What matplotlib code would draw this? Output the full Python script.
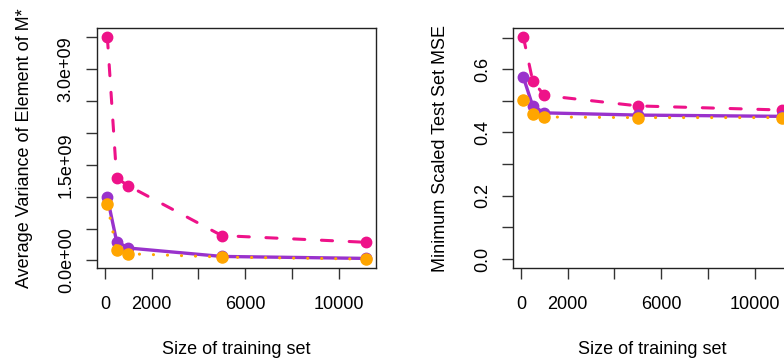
import numpy as np
import matplotlib
matplotlib.use("Agg")
from matplotlib import pyplot as plt
from matplotlib.ticker import FixedLocator, FixedFormatter

# training set sizes
train_size = [100, 500, 1000, 5000, 11160]

# left panel: average variance of element of M*
var_pink = [3.507e9, 1.292e9, 1.171e9, 0.390e9, 0.285e9]
var_purple = [0.990e9, 0.295e9, 0.195e9, 0.063e9, 0.032e9]
var_orange = [0.880e9, 0.158e9, 0.105e9, 0.053e9, 0.021e9]

# right panel: minimum scaled test set MSE
mse_pink = [0.702, 0.563, 0.517, 0.484, 0.471]
mse_purple = [0.575, 0.484, 0.462, 0.455, 0.451]
mse_orange = [0.504, 0.459, 0.449, 0.447, 0.447]

x_ticks = [0, 2000, 4000, 6000, 8000, 10000]
x_labels = ["0", "2000", "", "6000", "", "10000"]
var_ticks = [0, 0.5e9, 1.0e9, 1.5e9, 2.0e9, 2.5e9, 3.0e9, 3.5e9]
var_labels = ["0.0e+00", "", "", "1.5e+09", "", "", "3.0e+09", ""]
mse_ticks = [0, 0.1, 0.2, 0.3, 0.4, 0.5, 0.6, 0.7]
mse_labels = ["0.0", "", "0.2", "", "0.4", "", "0.6", ""]

PINK = "#EE1289"
PURPLE = "#9932CC"
ORANGE = "#FFA500"
FS = 13

plt.rcParams['font.family'] = ['Liberation Sans', 'DejaVu Sans']
plt.rcParams['lines.scale_dashes'] = False

W, H = 784, 362
fig = plt.figure(figsize=(W / 100, H / 100), dpi=100, facecolor="white")


def rlim(vals, pad=0.04):
    # R-style axis range: data range plus 4% on each side
    lo, hi = min(vals), max(vals)
    r = hi - lo
    return lo - pad * r, hi + pad * r


def panel(ax, series, yticks, ylabels, ylabel, ylim):
    pink, purple, orange = series
    ax.plot(train_size, pink, color=PINK, lw=2.2, dashes=(8, 12),
            dash_capstyle="round", marker="o", ms=7.5, zorder=3)
    ax.plot(train_size, purple, color=PURPLE, lw=2.4, solid_capstyle="round",
            marker="o", ms=7.5, zorder=4)
    ax.plot(train_size, orange, color=ORANGE, lw=2.2, dashes=(0.1, 10),
            dash_capstyle="round", marker="o", ms=8, zorder=5)
    ax.set_xlim(*rlim(train_size))
    ax.set_ylim(*ylim)
    ax.xaxis.set_major_locator(FixedLocator(x_ticks))
    ax.xaxis.set_major_formatter(FixedFormatter(x_labels))
    ax.yaxis.set_major_locator(FixedLocator(yticks))
    ax.yaxis.set_major_formatter(FixedFormatter(ylabels))
    ax.tick_params(direction="out", length=8, width=1, labelsize=FS,
                   color="#333333")
    ax.tick_params(axis="x", pad=12.5)
    ax.tick_params(axis="y", pad=8)
    for lab in ax.get_yticklabels():
        lab.set_rotation(90)
        lab.set_va("center")
    for s in ax.spines.values():
        s.set_linewidth(1)
        s.set_color("#222222")
    ax.set_xlabel("Size of training set", fontsize=FS, labelpad=20)
    ax.set_ylabel(ylabel, fontsize=FS, labelpad=18)


ax1 = fig.add_axes([97 / W, 94 / H, 279 / W, 240 / H])
panel(ax1, (var_pink, var_purple, var_orange), var_ticks, var_labels,
      "Average Variance of Element of M*",
      rlim(var_pink + var_purple + var_orange))

ax2 = fig.add_axes([513 / W, 94 / H, 279 / W, 240 / H])
panel(ax2, (mse_pink, mse_purple, mse_orange), mse_ticks, mse_labels,
      "Minimum Scaled Test Set MSE",
      rlim([0] + mse_pink))

fig.savefig("out.png", dpi=100)
